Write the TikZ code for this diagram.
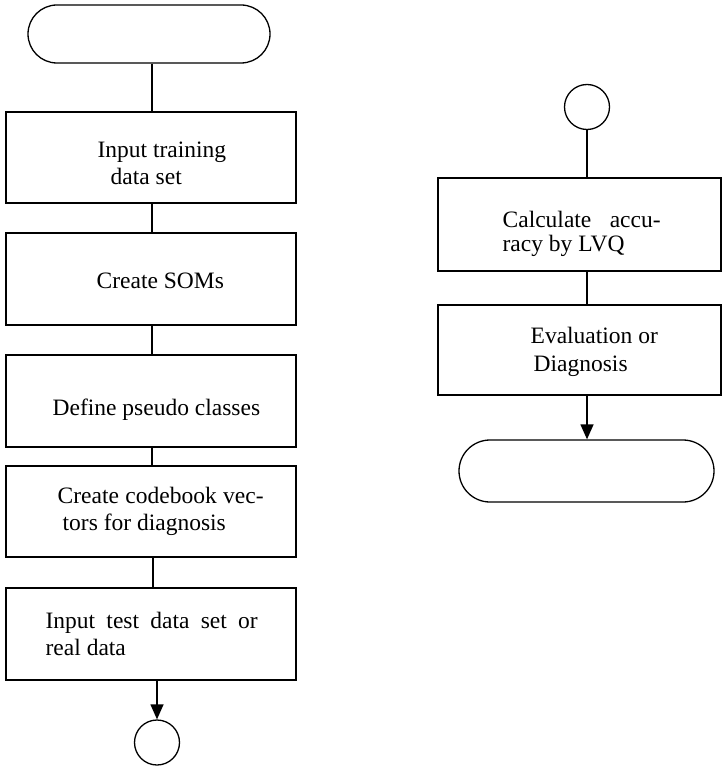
\documentclass[tikz,border=0pt]{standalone}
\usepackage{fontspec}
\setmainfont{Liberation Serif}
\usetikzlibrary{arrows.meta}
\begin{document}
\begin{tikzpicture}[x=1pt,y=-1pt,
  line width=1.3pt,
  stepbox/.style={draw, rectangle, inner sep=0pt},
  terminal/.style={draw, rectangle, rounded corners=29pt, inner sep=0pt},
  connector/.style={draw, circle, inner sep=0pt, minimum size=45pt},
  txt/.style={anchor=base west, inner sep=0pt, font=\fontsize{23.5}{27}\selectfont},
  flow/.style={line width=1.3pt},
  flowarrow/.style={line width=1.3pt, -{Triangle[width=13pt,length=15pt]}}
]
\useasboundingbox (0,0) rectangle (722,775);

% left column
\node[terminal, minimum width=242pt, minimum height=58pt] (start) at (149,34) {};
\node[stepbox, minimum width=290pt, minimum height=91pt] (b1) at (151,157.5) {};
\node[stepbox, minimum width=290pt, minimum height=92pt] (b2) at (151,279) {};
\node[stepbox, minimum width=290pt, minimum height=92pt] (b3) at (151,401) {};
\node[stepbox, minimum width=290pt, minimum height=91pt] (b4) at (151,511.5) {};
\node[stepbox, minimum width=290pt, minimum height=92pt] (b5) at (151,634) {};
\node[connector] (c1) at (157,742.5) {};

\node[txt] (t1a) at (97,158) {Input training};
\node[txt] (t1b) at (110,185) {data set};
\node[txt] (t2) at (96,288) {Create SOMs};
\node[txt] (t3) at (52,415) {Define pseudo classes};
\node[txt] (t4a) at (57,503) {\makebox[206pt][s]{Create codebook vec-}};
\node[txt] (t4b) at (62,530) {tors for diagnosis};
\node[txt] (t5a) at (45,628) {\makebox[212pt][s]{Input test data set or}};
\node[txt] (t5b) at (45,655) {real data};

\coordinate (x1) at (152,0);
\coordinate (x2) at (153,0);
\draw[flow] (start.south -| x1) -- (b1.north -| x1);
\draw[flow] (b1.south -| x1) -- (b2.north -| x1);
\draw[flow] (b2.south -| x1) -- (b3.north -| x1);
\draw[flow] (b3.south -| x1) -- (b4.north -| x1);
\draw[flow] (b4.south -| x2) -- (b5.north -| x2);
\draw[flowarrow] (b5.south -| c1) -- (c1.north);

% right column
\node[connector] (c2) at (587,107) {};
\node[stepbox, minimum width=283pt, minimum height=93pt] (r1) at (579.5,224.5) {};
\node[stepbox, minimum width=283pt, minimum height=90pt] (r2) at (579.5,350) {};
\node[terminal, minimum width=255pt, minimum height=62pt, rounded corners=31pt] (stop) at (586.5,471) {};

\node[txt] (u1a) at (502,228) {\makebox[158pt][s]{Calculate accu-}};
\node[txt] (u1b) at (502,252) {racy by LVQ};
\node[txt] (u2a) at (530,343) {Evaluation or};
\node[txt] (u2b) at (533,371) {Diagnosis};

\draw[flow] (c2.south) -- (r1.north -| c2);
\draw[flow] (r1.south -| c2) -- (r2.north -| c2);
\draw[flowarrow] (r2.south -| c2) -- (stop.north -| c2);
\end{tikzpicture}
\end{document}
